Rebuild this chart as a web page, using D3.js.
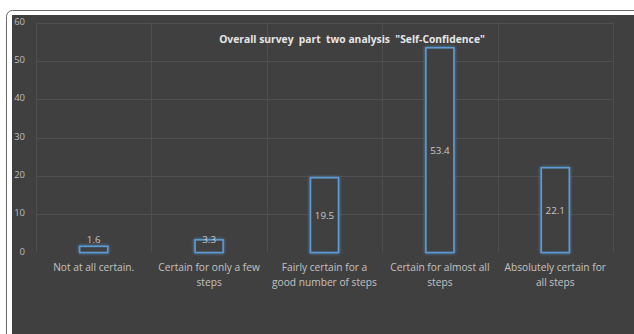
<!DOCTYPE html>
<html><head><meta charset="utf-8">
<script src="https://cdn.jsdelivr.net/npm/d3@7"></script>
<style>
html,body{margin:0;padding:0;background:#fff;}
svg{display:block;}
text{white-space:pre;}
</style></head>
<body>
<svg id="chart" width="634" height="334"></svg>
<script>
const title = 'Overall survey  part  two analysis  "Self-Confidence"';
const categories = [
  "Not at all certain.",
  "Certain for only a few\nsteps",
  "Fairly certain for a\ngood number of steps",
  "Certain for almost all\nsteps",
  "Absolutely certain for\nall steps"
];
const values = [1.6, 3.3, 19.5, 53.4, 22.1];
const yTicks = [0, 10, 20, 30, 40, 50, 60];

const svg = d3.select("#chart");
const W = 634, H = 334;
const m = {left: 36, right: 21, top: 22.5, bottom: 81.5};

// outer frame
svg.append("rect").attr("x", 6.5).attr("y", 10.5).attr("width", W + 20).attr("height", H + 20)
  .attr("rx", 6).attr("fill", "#fff").attr("stroke", "#6a6a6a").attr("stroke-width", 1);
svg.append("rect").attr("x", 12).attr("y", 15).attr("width", W).attr("height", H).attr("fill", "#404040");

const defs = svg.append("defs");
const f = defs.append("filter").attr("id", "glow").attr("x", "-50%").attr("y", "-50%").attr("width", "200%").attr("height", "200%");
f.append("feGaussianBlur").attr("in", "SourceGraphic").attr("stdDeviation", 1.6).attr("result", "b");
const mg = f.append("feMerge");
mg.append("feMergeNode").attr("in", "b");
mg.append("feMergeNode").attr("in", "SourceGraphic");

const x = d3.scaleBand().domain(d3.range(categories.length)).range([m.left, W - m.right]).paddingInner(0).paddingOuter(0);
const y = d3.scaleLinear().domain([0, 60]).range([H - m.bottom, m.top]);

const grid = svg.append("g");
grid.selectAll("line.h").data(yTicks.filter(d => d > 0)).join("line")
  .attr("x1", m.left).attr("x2", W - m.right)
  .attr("y1", d => Math.round(y(d)) + 0.5).attr("y2", d => Math.round(y(d)) + 0.5)
  .attr("stroke", "#4f4f4f").attr("stroke-width", 1);
const vx = d3.range(categories.length + 1).map(i => i < categories.length ? x(i) : W - m.right);
grid.selectAll("line.v").data(vx).join("line")
  .attr("x1", d => Math.round(d) + 0.5).attr("x2", d => Math.round(d) + 0.5)
  .attr("y1", m.top).attr("y2", y(0))
  .attr("stroke", "#4f4f4f").attr("stroke-width", 1);

// y axis tick labels
svg.append("g").selectAll("text").data(yTicks).join("text")
  .attr("x", 25).attr("y", d => y(d) - 1).attr("dy", "0.35em")
  .attr("text-anchor", "end")
  .attr("font-family", "Open Sans, sans-serif").attr("font-size", 9.5)
  .attr("fill", "#bdbdbd").text(d => d);

// title
svg.append("text").attr("x", 352).attr("y", 43)
  .attr("text-anchor", "middle")
  .attr("font-family", "Open Sans, sans-serif").attr("font-weight", "bold").attr("font-size", 10.3)
  .attr("fill", "#e6e6e6").text(title);

// bars
const bw = 28;
svg.append("g").selectAll("rect").data(values).join("rect")
  .attr("x", (d, i) => x(i) + x.bandwidth() / 2 - bw / 2)
  .attr("y", d => y(d))
  .attr("width", bw)
  .attr("height", d => y(0) - y(d))
  .attr("fill", "#404040")
  .attr("stroke", "#5b9bd5").attr("stroke-width", 1.6)
  .attr("filter", "url(#glow)");

// value labels
svg.append("g").selectAll("text").data(values).join("text")
  .attr("x", (d, i) => x(i) + x.bandwidth() / 2)
  .attr("y", d => Math.min((y(d) + y(0)) / 2, y(0) - 13))
  .attr("dy", "0.35em")
  .attr("text-anchor", "middle")
  .attr("font-family", "Open Sans, sans-serif").attr("font-size", 9.8)
  .attr("fill", "#c8c8c8").text(d => d);

// category labels
const cg = svg.append("g");
categories.forEach((c, i) => {
  const t = cg.append("text")
    .attr("x", x(i) + x.bandwidth() / 2).attr("y", 271)
    .attr("text-anchor", "middle")
    .attr("font-family", "Open Sans, sans-serif").attr("font-size", 10.2)
    .attr("fill", "#c3c3c3");
  c.split("\n").forEach((line, j) => {
    t.append("tspan").attr("x", x(i) + x.bandwidth() / 2).attr("dy", j === 0 ? 0 : 15).text(line);
  });
});
</script>
</body></html>
